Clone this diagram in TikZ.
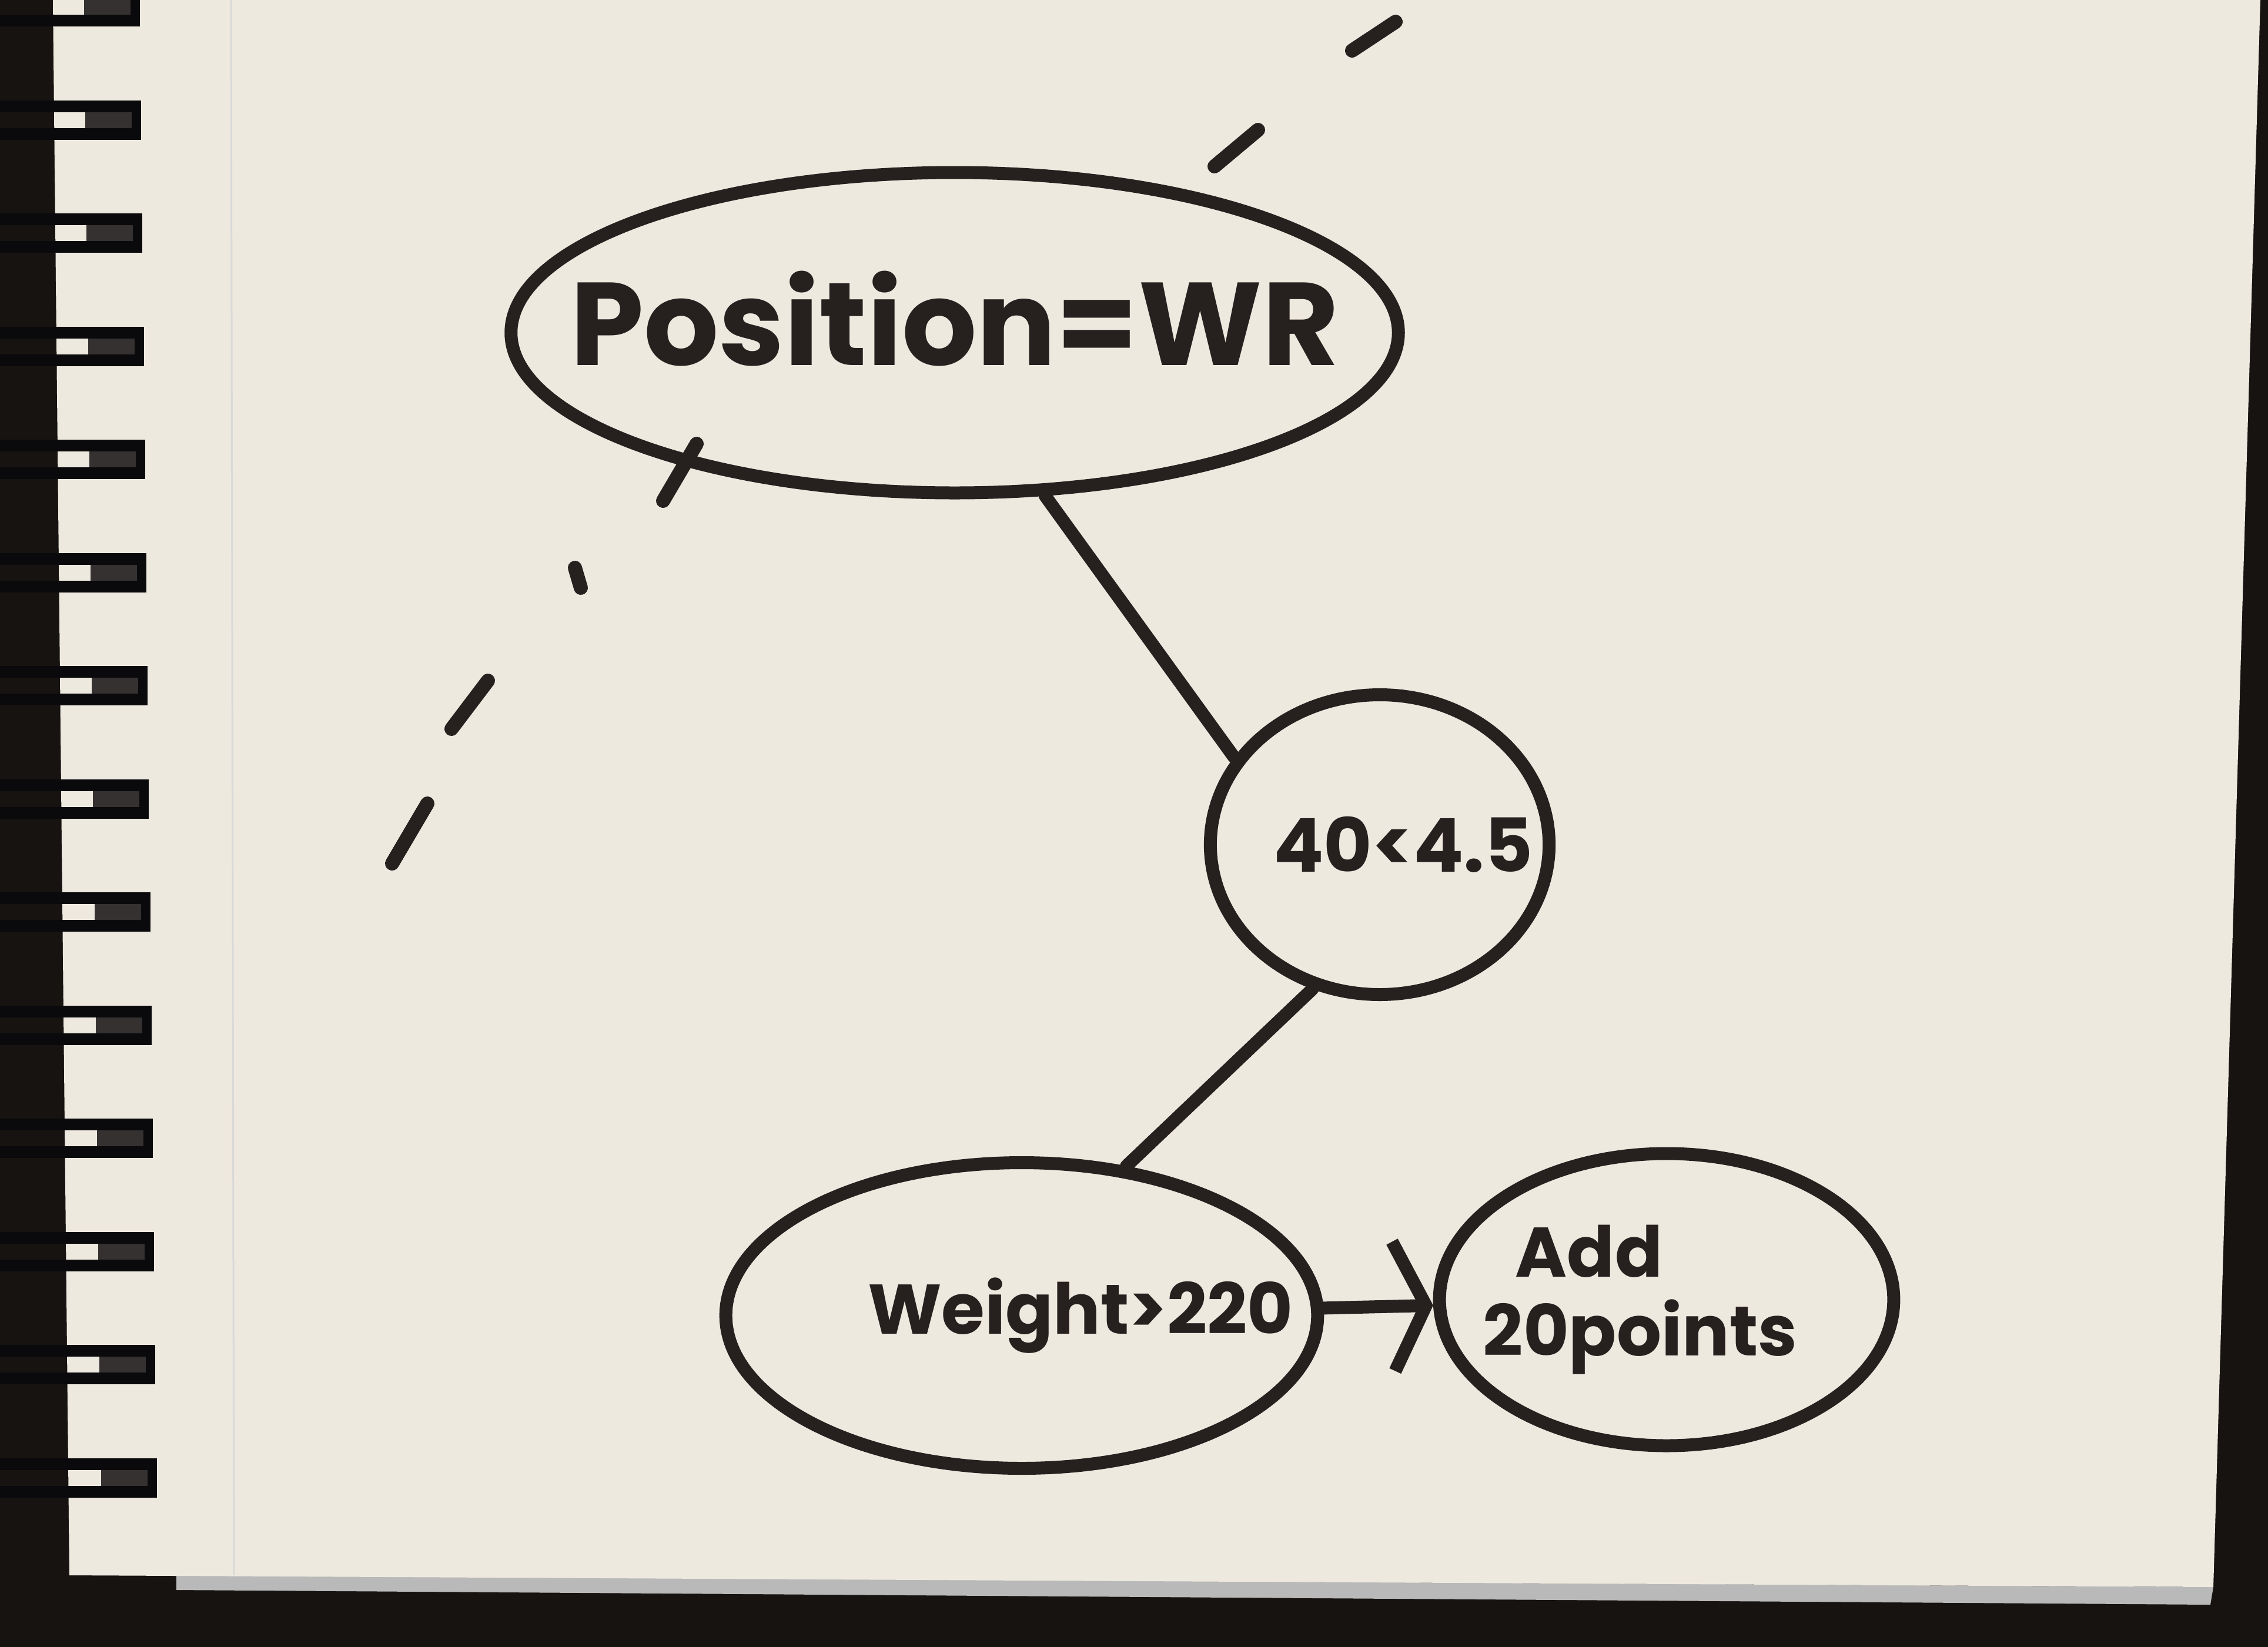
\documentclass[tikz,border=0pt]{standalone}
\usepackage{fontspec}
\setmainfont{Poppins}
\usepackage{tikz}
\usetikzlibrary{positioning, arrows.meta, shapes.geometric, calc}

\definecolor{paper}{RGB}{238,233,223}
\definecolor{ink}{RGB}{38,32,31}
\definecolor{desk}{RGB}{22,19,17}
\definecolor{wire}{RGB}{10,10,12}
\definecolor{ringgray}{RGB}{52,49,48}

\begin{document}
\begin{tikzpicture}[x=1cm, y=-1cm]
			\tikzset{
				blob/.style={ellipse, draw=ink, fill=paper, line width=0.22cm, inner ysep=0pt, text=ink, font=\bfseries, align=center},
				link/.style={draw=ink, line width=0.22cm, line cap=round},
				pendash/.style={draw=ink, line width=0.24cm, line cap=round},
			}
			
			% Desk and notebook page
			\useasboundingbox (0,0) rectangle (38.58,28.02);
			\fill[desk] (0,0) rectangle (38.58,28.02);
			\fill[gray!55] (3,26.8) -- (37.65,27.0) -- (37.6,27.3) -- (3,27.05) -- cycle;
			\fill[paper] (0.9,0) -- (38.45,0) -- (37.65,27.0) -- (1.18,26.8) -- cycle;
			\draw[gray!30, line width=0.03cm] (3.93,0) -- (3.98,26.8);
			
			% Spiral binding
			\foreach \k in {0,...,13} {
				\pgfmathsetmacro{\cy}{0.1+1.925*\k}
				\pgfmathsetmacro{\xe}{2.38+0.022*\k}
				\fill[ringgray] (\xe-0.95,\cy-0.3) rectangle (\xe,\cy+0.33);
				\draw[wire, line width=0.2cm] (0,\cy-0.22) -- (\xe,\cy-0.22);
				\draw[wire, line width=0.2cm] (0,\cy+0.25) -- (\xe,\cy+0.25);
				\draw[wire, line width=0.16cm] (\xe-0.08,\cy-0.3) -- (\xe-0.08,\cy+0.33);
			}
			
			% Nodes
			\node[blob, minimum height=5.45cm, inner xsep=-1.2cm, text depth=0.5cm,
			      font=\bfseries\fontsize{57}{62}\selectfont] (pos) at (16.24,5.66) {Position=WR};
			\node[blob, minimum height=5.1cm, inner xsep=-0.57cm,
			      font=\bfseries\fontsize{36}{40}\selectfont] (speed) at (23.47,14.37) {\hspace*{0.8cm}40<4.5};
			\node[blob, minimum height=5.2cm, inner xsep=-1.06cm,
			      font=\bfseries\fontsize{34}{38}\selectfont] (weight) at (17.38,22.38) {\hspace*{2cm}Weight>220};
			\node[blob, minimum height=4.97cm, inner xsep=-0.39cm, align=left,
			      font=\bfseries\fontsize{34}{38}\selectfont] (points) at (28.35,22.11) {\hspace*{0.55cm}Add\\20points\hspace*{0.9cm}};
			
			% Connecting lines
			\draw[link] (pos.-61) -- (speed.149);
			\draw[link] (speed.245) -- (weight.55);
			\draw[link, -{Straight Barb[length=0.55cm, width=2.2cm]}] (weight) -- (points);
			
			% Pen dashes
			\foreach \ax/\ay/\bx/\by in {23.74/0.37/23.00/0.86, 21.40/2.21/20.66/2.83,
			                             11.85/7.55/11.28/8.52, 9.78/9.66/9.88/10.0,
			                             8.30/11.58/7.68/12.40, 7.27/13.67/6.67/14.69} {
				\draw[pendash] (\ax,\ay) -- (\bx,\by);
			}
		\end{tikzpicture}
\end{document}
